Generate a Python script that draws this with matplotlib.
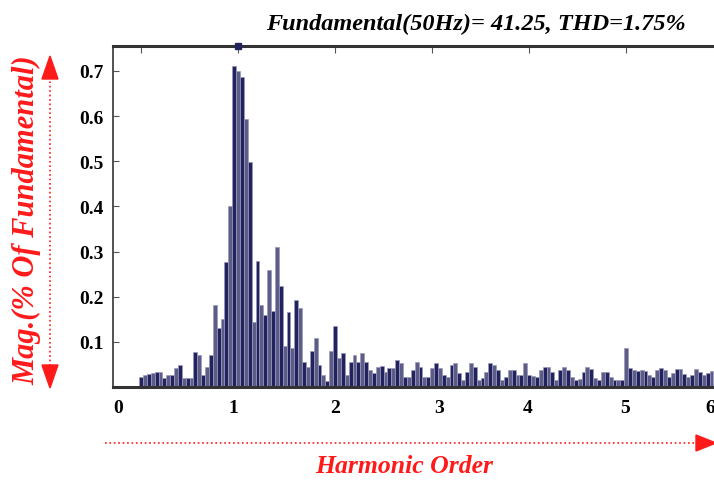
import matplotlib
matplotlib.use("Agg")
import matplotlib.pyplot as plt
import numpy as np
from matplotlib.lines import Line2D
from matplotlib.patches import Polygon

# spectrum magnitude per frequency bin (bin width 0.04 harmonic = 2 Hz)
mag = [0.023, 0.026, 0.028, 0.030, 0.034, 0.034, 0.020, 0.026, 0.026, 0.042,
       0.049, 0.020, 0.020, 0.020, 0.078, 0.071, 0.027, 0.044, 0.070, 0.182,
       0.131, 0.151, 0.276, 0.400, 0.711, 0.700, 0.687, 0.593, 0.498, 0.144,
       0.278, 0.182, 0.160, 0.258, 0.168, 0.311, 0.224, 0.091, 0.167, 0.087,
       0.193, 0.176, 0.056, 0.045, 0.080, 0.109, 0.049, 0.027, 0.013, 0.080,
       0.136, 0.064, 0.075, 0.027, 0.056, 0.071, 0.056, 0.075, 0.056, 0.038,
       0.032, 0.045, 0.046, 0.034, 0.041, 0.041, 0.060, 0.053, 0.023, 0.023,
       0.038, 0.056, 0.045, 0.023, 0.023, 0.041, 0.053, 0.041, 0.027, 0.022,
       0.048, 0.053, 0.030, 0.016, 0.034, 0.053, 0.045, 0.016, 0.020, 0.034,
       0.054, 0.049, 0.038, 0.016, 0.023, 0.038, 0.038, 0.027, 0.027, 0.053,
       0.027, 0.025, 0.023, 0.038, 0.045, 0.045, 0.034, 0.016, 0.038, 0.045,
       0.038, 0.023, 0.016, 0.017, 0.034, 0.045, 0.040, 0.020, 0.016, 0.034,
       0.034, 0.023, 0.016, 0.016, 0.016, 0.087, 0.041, 0.038, 0.036, 0.038,
       0.036, 0.027, 0.023, 0.038, 0.041, 0.038, 0.023, 0.030, 0.040, 0.040,
       0.029, 0.022, 0.027, 0.040, 0.034, 0.027, 0.030, 0.035]
bin_width = 0.04
order = np.arange(len(mag)) * bin_width

xticks = [0, 1, 2, 3, 4, 5, 6]
xtick_labels = ["0", "1", "2", "3", "4", "5", "6"]
xlabel_pos = [-0.24, 0.95, 2.003, 3.07, 3.98, 4.99, 5.87]
yticks = [0.1, 0.2, 0.3, 0.4, 0.5, 0.6, 0.7]
title = "Fundamental(50Hz)= 41.25, THD=1.75%"

W, H = 714, 485
fig = plt.figure(figsize=(W / 100, H / 100), dpi=100)
ax = fig.add_axes([113 / W, 97 / H, 615 / W, 341 / H])

navy = "#22225e"
shades = [navy if i % 2 == 0 else "#5c5c86" for i in range(len(mag))]
ax.bar(order, mag, width=bin_width, color=shades, edgecolor="#9a9abb",
       linewidth=0.5, align="center", zorder=2)
ax.set_xlim(-0.289, 6.05)
ax.set_ylim(0, 0.755)

# fundamental marker on the top border
ax.plot([1], [0.755], marker="s", ms=5, color=navy, clip_on=False, zorder=5)

serif = "Liberation Serif"
ax.set_xticks(xticks)
ax.set_xticklabels([])
ax.set_xticks(xlabel_pos, minor=True)
ax.set_xticklabels(xtick_labels, minor=True, fontfamily=serif,
                   fontweight="bold", fontsize=14)
ax.tick_params(axis="x", which="major", direction="in", top=True,
               bottom=False, length=5, color="#555555")
ax.tick_params(axis="x", which="minor", length=0, pad=9)
ax.set_yticks(yticks)
ax.set_yticklabels([f"{v:.1f}" for v in yticks], fontfamily=serif,
                   fontweight="bold", fontsize=14)
ax.tick_params(axis="y", direction="in", length=4, pad=7, color="#555555")

for side in ["top", "bottom"]:
    ax.spines[side].set_linewidth(2.2)
    ax.spines[side].set_color("#333333")
ax.spines["left"].set_linewidth(1.3)
ax.spines["left"].set_color("#444444")

fig.text(476 / W, 1 - 24 / H, title, ha="center", va="center",
         fontfamily=serif, fontweight="bold", fontstyle="italic", fontsize=17.5)

red = "#ff1a1a"
fig.text(27 / W, 1 - 220 / H, "Mag.(% Of Fundamental)", rotation=90,
         ha="center", va="center", color=red, fontfamily=serif,
         fontweight="bold", fontstyle="italic", fontsize=22)
fig.text(404 / W, 1 - 467 / H, "Harmonic Order", ha="center", va="center",
         color=red, fontfamily=serif, fontweight="bold", fontstyle="italic",
         fontsize=18.5)


def px(x, y):
    return x / W, 1 - y / H


# vertical double-headed dotted arrow
x0 = 50
fig.add_artist(Line2D([px(x0, 0)[0]] * 2, [px(0, 78)[1], px(0, 368)[1]],
                      color=red, lw=1.2, ls=":"))
fig.add_artist(Polygon([px(x0, 57), px(x0 - 8, 80), px(x0 + 8, 80)],
                       closed=True, color=red, transform=fig.transFigure))
fig.add_artist(Polygon([px(x0, 389), px(x0 - 8, 366), px(x0 + 8, 366)],
                       closed=True, color=red, transform=fig.transFigure))

# horizontal dotted arrow
y0 = 444
fig.add_artist(Line2D([px(105, 0)[0], px(698, 0)[0]], [px(0, y0)[1]] * 2,
                      color=red, lw=1.2, ls=":"))
fig.add_artist(Polygon([px(716, y0), px(696, y0 - 8), px(696, y0 + 8)],
                       closed=True, color=red, transform=fig.transFigure))

fig.savefig("out.png", dpi=100)
